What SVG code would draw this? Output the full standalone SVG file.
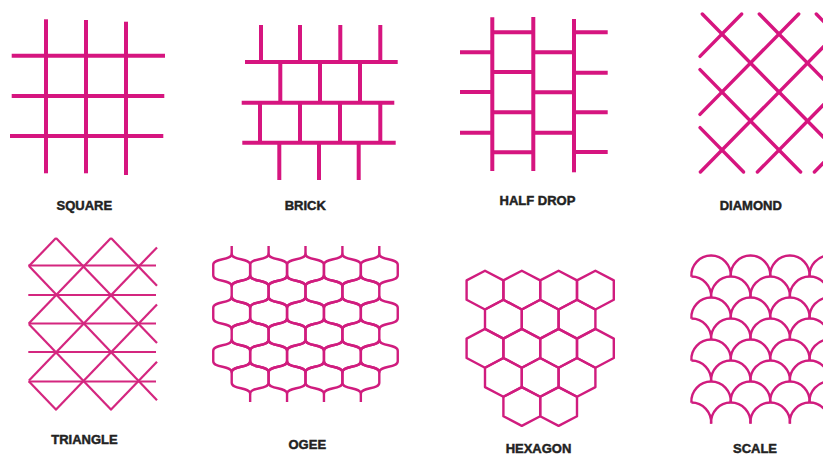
<svg xmlns="http://www.w3.org/2000/svg" xmlns:xlink="http://www.w3.org/1999/xlink" width="823" height="456" viewBox="0 0 823 456">
<style>
.thick{stroke:#d6157f;stroke-width:4;fill:none;stroke-linecap:butt}
.dia{stroke:#d6157f;stroke-width:3.4;fill:none;stroke-linecap:round}
.thin{stroke:#d01c7e;stroke-width:2.4;fill:none;stroke-linejoin:round}
.tri{stroke:#d4267f;stroke-width:2.2;fill:none}
.lbl{font-family:"Liberation Sans",Arial,sans-serif;font-weight:bold;font-size:13px;fill:#222;stroke:#222;stroke-width:0.45;text-anchor:middle}
</style>
<defs>
<path id="og" d="M0,0 C0,7.2 18.45,3.8 18.45,11 V21.5 C18.45,28.7 0,25.3 0,32.5 C0,25.3 -18.45,28.7 -18.45,21.5 V11 C-18.45,3.8 0,7.2 0,0Z"/>
<polygon id="hx" points="0,-19.4 18.4,-9.7 18.4,9.7 0,19.4 -18.4,9.7 -18.4,-9.7"/>
<path id="sc" d="M-19.7,20.7 A19.75,19.75 0 1 1 19.7,20.7"/>
<path id="sch" d="M0,-0.45 A19.75,19.75 0 0 1 19.7,20.7"/>
</defs>
<rect width="823" height="456" fill="#fff"/>

<g id="square" class="thick">
<line x1="46" y1="19.3" x2="46" y2="173.3"/>
<line x1="86" y1="20" x2="86" y2="173.3"/>
<line x1="126" y1="21.7" x2="126" y2="175"/>
<line x1="11.7" y1="55.7" x2="165" y2="55.7"/>
<line x1="11.7" y1="96" x2="164.3" y2="96"/>
<line x1="10" y1="136" x2="163.3" y2="136"/>
</g>
<text class="lbl" x="84.3" y="209.5">SQUARE</text>

<g id="brick" class="thick">
<line x1="245" y1="62" x2="397.7" y2="62"/>
<line x1="241.7" y1="102.7" x2="394.3" y2="102.7"/>
<line x1="242.3" y1="142.7" x2="395.7" y2="142.7"/>
<line x1="261" y1="25" x2="261" y2="62"/>
<line x1="300" y1="25" x2="300" y2="62"/>
<line x1="340.3" y1="25" x2="340.3" y2="62"/>
<line x1="380.3" y1="25" x2="380.3" y2="62"/>
<line x1="280.3" y1="62" x2="280.3" y2="102.7"/>
<line x1="320" y1="62" x2="320" y2="102.7"/>
<line x1="360" y1="62" x2="360" y2="102.7"/>
<line x1="260" y1="102.7" x2="260" y2="142.7"/>
<line x1="300" y1="102.7" x2="300" y2="142.7"/>
<line x1="340" y1="102.7" x2="340" y2="142.7"/>
<line x1="380.3" y1="102.7" x2="380.3" y2="142.7"/>
<line x1="279.3" y1="142.7" x2="279.3" y2="180"/>
<line x1="319" y1="142.7" x2="319" y2="180"/>
<line x1="358.7" y1="142.7" x2="358.7" y2="180"/>
</g>
<text class="lbl" x="305.3" y="210">BRICK</text>

<g id="halfdrop" class="thick">
<line x1="492.3" y1="17.3" x2="492.3" y2="171"/>
<line x1="533.3" y1="17" x2="533.3" y2="171"/>
<line x1="574" y1="19" x2="574" y2="172.3"/>
<line x1="460" y1="52.3" x2="492.3" y2="52.3"/>
<line x1="460" y1="92" x2="492.3" y2="92"/>
<line x1="460" y1="132.7" x2="492.3" y2="132.7"/>
<line x1="492.3" y1="32.3" x2="533.3" y2="32.3"/>
<line x1="492.3" y1="72" x2="533.3" y2="72"/>
<line x1="492.3" y1="112.3" x2="533.3" y2="112.3"/>
<line x1="492.3" y1="152.3" x2="533.3" y2="152.3"/>
<line x1="533.3" y1="52.3" x2="574" y2="52.3"/>
<line x1="533.3" y1="92.3" x2="574" y2="92.3"/>
<line x1="533.3" y1="132.7" x2="574" y2="132.7"/>
<line x1="574" y1="32.3" x2="607.7" y2="32.3"/>
<line x1="574" y1="72.7" x2="607.7" y2="72.7"/>
<line x1="574" y1="112.3" x2="607.7" y2="112.3"/>
<line x1="574" y1="152" x2="607.7" y2="152"/>
</g>
<text class="lbl" x="537.5" y="205">HALF DROP</text>

<g id="diamond" class="dia">
<line x1="702.3" y1="14" x2="857.6" y2="172"/>
<line x1="759.3" y1="14" x2="914.6" y2="172"/>
<line x1="816.3" y1="14" x2="971.6" y2="172"/>
<line x1="700" y1="69.6" x2="800.6" y2="172"/>
<line x1="700" y1="127.6" x2="743.6" y2="172"/>
<line x1="741.7" y1="14" x2="700" y2="56.4"/>
<line x1="798.7" y1="14" x2="700" y2="114.4"/>
<line x1="855.7" y1="14" x2="700.4" y2="172"/>
<line x1="912.7" y1="14" x2="757.4" y2="172"/>
<line x1="969.7" y1="14" x2="814.4" y2="172"/>
</g>
<text class="lbl" x="750.8" y="210">DIAMOND</text>

<g id="triangle" class="tri">
<line x1="28.3" y1="265.5" x2="156" y2="265.5"/>
<line x1="28.3" y1="295" x2="156" y2="295"/>
<line x1="28.3" y1="323.5" x2="156" y2="323.5"/>
<line x1="28.3" y1="352" x2="156" y2="352"/>
<line x1="28.3" y1="381.5" x2="156" y2="381.5"/>
<line x1="111" y1="238" x2="157" y2="285.8"/>
<line x1="56" y1="238" x2="157" y2="343"/>
<line x1="29" y1="266.1" x2="157" y2="400.2"/>
<line x1="29" y1="324.3" x2="111.4" y2="410"/>
<line x1="29" y1="381.5" x2="56.4" y2="410"/>
<line x1="56" y1="238" x2="29" y2="266.1"/>
<line x1="111" y1="238" x2="29" y2="323.3"/>
<line x1="157" y1="247.4" x2="29" y2="380.5"/>
<line x1="157" y1="304.6" x2="55.6" y2="410"/>
<line x1="157" y1="361.8" x2="110.6" y2="410"/>
</g>
<text class="lbl" x="84.5" y="444">TRIANGLE</text>

<g id="ogee" class="thin">
<path d="M231.7,246V253.75M268.6,246V253.75M305.5,246V253.75M342.4,246V253.75M379.3,246V253.75M250.15,393.75V402M287.05,393.75V402M323.95,393.75V402M360.85,393.75V402"/>
<use xlink:href="#og" x="231.7" y="253.75"/><use xlink:href="#og" x="268.6" y="253.75"/><use xlink:href="#og" x="305.5" y="253.75"/><use xlink:href="#og" x="342.4" y="253.75"/><use xlink:href="#og" x="379.3" y="253.75"/>
<use xlink:href="#og" x="250.15" y="275.25"/><use xlink:href="#og" x="287.05" y="275.25"/><use xlink:href="#og" x="323.95" y="275.25"/><use xlink:href="#og" x="360.85" y="275.25"/>
<use xlink:href="#og" x="231.7" y="296.75"/><use xlink:href="#og" x="268.6" y="296.75"/><use xlink:href="#og" x="305.5" y="296.75"/><use xlink:href="#og" x="342.4" y="296.75"/><use xlink:href="#og" x="379.3" y="296.75"/>
<use xlink:href="#og" x="250.15" y="318.25"/><use xlink:href="#og" x="287.05" y="318.25"/><use xlink:href="#og" x="323.95" y="318.25"/><use xlink:href="#og" x="360.85" y="318.25"/>
<use xlink:href="#og" x="231.7" y="339.75"/><use xlink:href="#og" x="268.6" y="339.75"/><use xlink:href="#og" x="305.5" y="339.75"/><use xlink:href="#og" x="342.4" y="339.75"/><use xlink:href="#og" x="379.3" y="339.75"/>
<use xlink:href="#og" x="250.15" y="361.25"/><use xlink:href="#og" x="287.05" y="361.25"/><use xlink:href="#og" x="323.95" y="361.25"/><use xlink:href="#og" x="360.85" y="361.25"/>
</g>
<text class="lbl" x="307.3" y="449">OGEE</text>

<g id="hexagon" class="thin">
<use xlink:href="#hx" x="485" y="290.1"/><use xlink:href="#hx" x="521.8" y="290.1"/><use xlink:href="#hx" x="558.6" y="290.1"/><use xlink:href="#hx" x="595.4" y="290.1"/>
<use xlink:href="#hx" x="503.4" y="319.2"/><use xlink:href="#hx" x="540.2" y="319.2"/><use xlink:href="#hx" x="577" y="319.2"/>
<use xlink:href="#hx" x="485" y="348.3"/><use xlink:href="#hx" x="521.8" y="348.3"/><use xlink:href="#hx" x="558.6" y="348.3"/><use xlink:href="#hx" x="595.4" y="348.3"/>
<use xlink:href="#hx" x="503.4" y="377.4"/><use xlink:href="#hx" x="540.2" y="377.4"/><use xlink:href="#hx" x="577" y="377.4"/>
<use xlink:href="#hx" x="521.8" y="406.5"/><use xlink:href="#hx" x="558.6" y="406.5"/>
</g>
<text class="lbl" x="538.5" y="453">HEXAGON</text>

<g id="scale" class="thin">
<use xlink:href="#sc" x="711.1" y="256"/><use xlink:href="#sc" x="750.5" y="256"/><use xlink:href="#sc" x="789.9" y="256"/><use xlink:href="#sc" x="829.3" y="256"/>
<use xlink:href="#sch" x="691.4" y="277"/><use xlink:href="#sc" x="730.8" y="277"/><use xlink:href="#sc" x="770.2" y="277"/><use xlink:href="#sc" x="809.6" y="277"/>
<use xlink:href="#sc" x="711.1" y="298"/><use xlink:href="#sc" x="750.5" y="298"/><use xlink:href="#sc" x="789.9" y="298"/><use xlink:href="#sc" x="829.3" y="298"/>
<use xlink:href="#sch" x="691.4" y="319"/><use xlink:href="#sc" x="730.8" y="319"/><use xlink:href="#sc" x="770.2" y="319"/><use xlink:href="#sc" x="809.6" y="319"/>
<use xlink:href="#sc" x="711.1" y="340"/><use xlink:href="#sc" x="750.5" y="340"/><use xlink:href="#sc" x="789.9" y="340"/><use xlink:href="#sc" x="829.3" y="340"/>
<use xlink:href="#sch" x="691.4" y="361"/><use xlink:href="#sc" x="730.8" y="361"/><use xlink:href="#sc" x="770.2" y="361"/><use xlink:href="#sc" x="809.6" y="361"/>
<use xlink:href="#sc" x="711.1" y="382"/><use xlink:href="#sc" x="750.5" y="382"/><use xlink:href="#sc" x="789.9" y="382"/><use xlink:href="#sc" x="829.3" y="382"/>
<use xlink:href="#sch" x="691.4" y="403"/><use xlink:href="#sc" x="730.8" y="403"/><use xlink:href="#sc" x="770.2" y="403"/><use xlink:href="#sc" x="809.6" y="403"/>
</g>
<text class="lbl" x="755" y="453">SCALE</text>
</svg>
